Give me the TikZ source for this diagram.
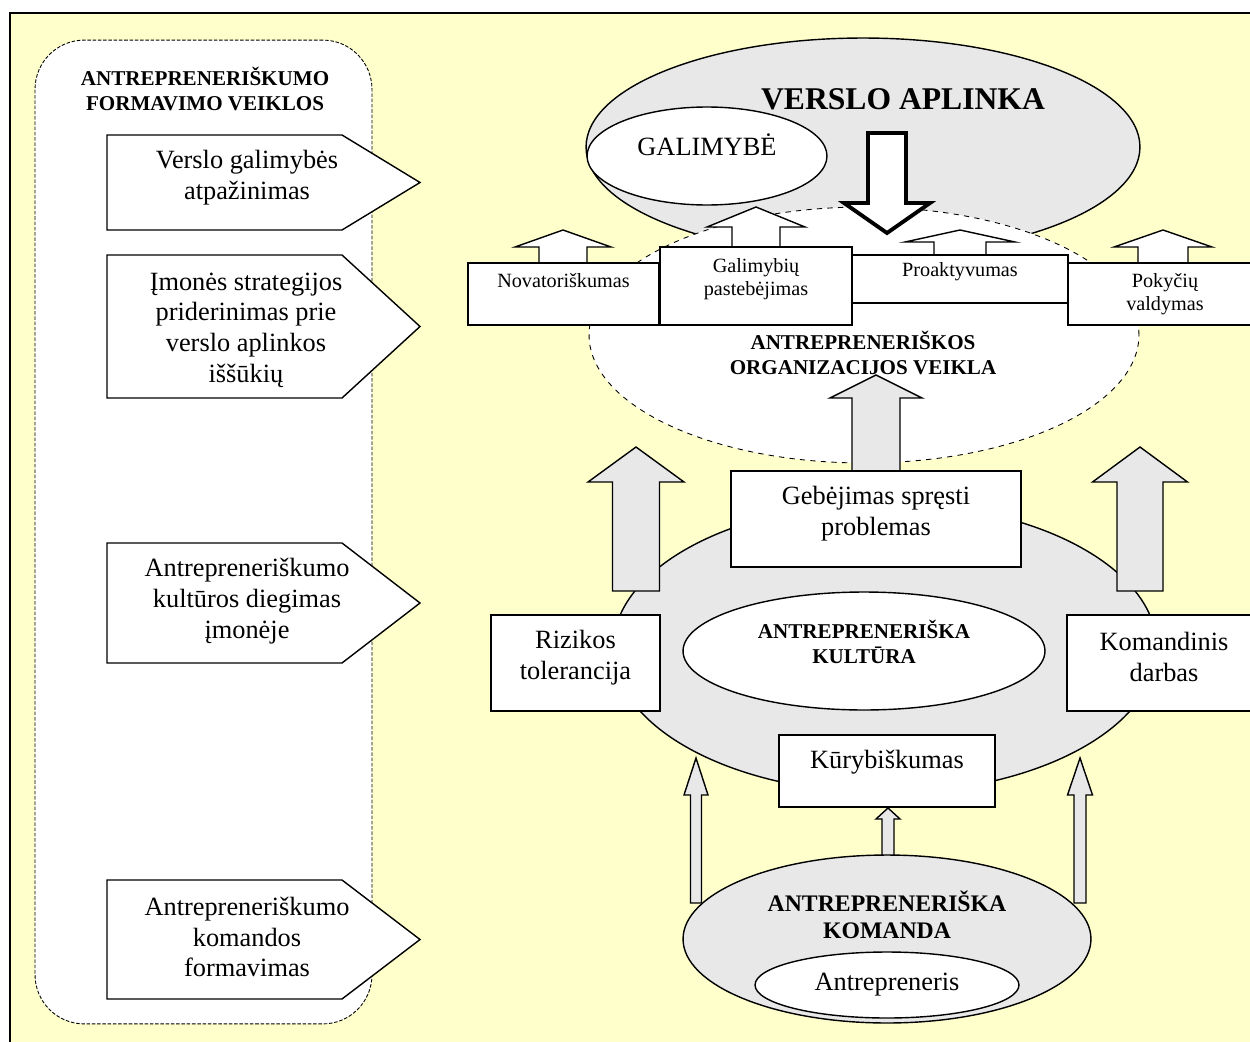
\documentclass[tikz,border=0pt]{standalone}
\usepackage{fontspec}
\setmainfont{Liberation Serif}
\usetikzlibrary{shapes.geometric}
\definecolor{bgyellow}{RGB}{255,255,204}
\definecolor{lgray}{RGB}{232,232,232}
\newcommand\blkarrow[7]{% style, cx, ybottom, ytip, yheadbase, shafthalf, headhalf
  \draw[#1] ({#2-#6},#3) -- ({#2-#6},#5) -- ({#2-#7},#5) -- (#2,#4) -- ({#2+#7},#5) -- ({#2+#6},#5) -- ({#2+#6},#3) -- cycle;}
\newcommand\pentarrow[5]{% ytop, ybottom, xleft, xbody, xtip
  \draw[warrow] (#3,#1) -- (#4,#1) -- (#5,{(#1+#2)/2}) -- (#4,#2) -- (#3,#2) -- cycle;}
\tikzset{
  box/.style={draw, line width=0.8pt, fill=white, inner sep=0pt, rectangle},
  ell/.style={draw, line width=0.8pt, ellipse, inner sep=0pt},
  txt/.style={align=center, inner sep=0pt, font=\fontsize{15}{17.5}\selectfont},
  stxt/.style={align=center, inner sep=0pt, font=\fontsize{11.5}{13}\selectfont},
  btxt/.style={align=center, inner sep=0pt, font=\bfseries\fontsize{12}{14.5}\selectfont},
  warrow/.style={draw, line width=0.8pt, fill=white, line join=miter},
  garrow/.style={draw, line width=0.8pt, fill=lgray, line join=miter},
}
\begin{document}
\begin{tikzpicture}[x=0.02cm,y=-0.02cm]
\useasboundingbox (0,0) rectangle (1250,1041);
\fill[white] (0,0) rectangle (1250,1041);
\draw[line width=1.2pt, fill=bgyellow] (10,13) rectangle (1275,1060);

% left panel
\node[draw, line width=0.5pt, dash pattern=on 2pt off 1pt, fill=white, rounded corners=28pt,
      minimum width=6.74cm, minimum height=19.68cm, inner sep=0pt] (panel) at (203.5,532) {};
\node[btxt] (title) at (205,89) {ANTREPRENERIŠKUMO\\FORMAVIMO VEIKLOS};

\pentarrow{135}{230}{107}{342}{420}
\node[txt] (p1) at (247,178) {Verslo galimybės\\atpažinimas};
\pentarrow{255}{398}{107}{342}{420}
\node[txt] (p2) at (246,330) {Įmonės strategijos\\priderinimas prie\\verslo aplinkos\\iššūkių};
\pentarrow{543}{663}{107}{342}{420}
\node[txt] (p3) at (247,601) {Antrepreneriškumo\\kultūros diegimas\\įmonėje};
\pentarrow{880}{999}{107}{342}{420}
\node[txt] (p4) at (247,937) {Antrepreneriškumo\\komandos\\formavimas};

% business environment
\node[ell, fill=lgray, minimum width=11.08cm, minimum height=4.36cm] (env) at (863,147) {};
\node[anchor=base, inner sep=0pt, font=\bfseries\fontsize{18}{21}\selectfont] (envt) at (903,109) {VERSLO APLINKA};
\node[ell, fill=white, minimum width=4.8cm, minimum height=1.96cm] (opp) at (707,156) {};
\node[anchor=base, inner sep=0pt, font=\fontsize{15}{17.5}\selectfont] (oppt) at (707,155) {GALIMYBĖ};

% organisation activity
\node[ell, dashed, line width=0.5pt, fill=white, minimum width=11cm, minimum height=5.12cm] (org) at (864,335) {};
\blkarrow{draw, line width=2.2pt, fill=white, line join=miter}{887}{133}{233}{203}{19}{43}

\blkarrow{warrow}{563}{264}{230}{247}{24}{48}
\blkarrow{warrow}{756}{248}{207}{227}{24}{49}
\blkarrow{warrow}{960}{256}{230}{242}{26}{55}
\blkarrow{warrow}{1163}{264}{230}{247}{25}{49}

\node[box, minimum width=3.82cm, minimum height=1.24cm] (nov) at (563.5,294) {};
\node[stxt] (novt) at (563.5,281) {Novatoriškumas};
\node[box, minimum width=3.84cm, minimum height=1.56cm] (gal) at (756,286) {};
\node[stxt] (galt) at (756,279) {Galimybių\\pastebėjimas};
\node[box, minimum width=4.32cm, minimum height=0.96cm] (pro) at (960,279) {};
\node[stxt] (prot) at (960,272) {Proaktyvumas};
\node[box, minimum width=4.04cm, minimum height=1.24cm] (pok) at (1169,294) {};
\node[stxt] (pokt) at (1165,294) {Pokyčių\\valdymas};

\node[btxt] (orgt) at (863,353) {ANTREPRENERIŠKOS\\ORGANIZACIJOS VEIKLA};

% culture
\node[ell, fill=lgray, minimum width=10.88cm, minimum height=5.8cm] (cult) at (885,648) {};
\blkarrow{garrow}{876}{471}{375}{398}{24}{46}
\blkarrow{garrow}{636}{591}{447}{482}{23.5}{48}
\blkarrow{garrow}{1140}{591}{447}{482}{23}{47.5}

\node[box, minimum width=5.8cm, minimum height=1.92cm] (geb) at (876,519) {};
\node[txt] (gebt) at (876,514) {Gebėjimas spręsti\\problemas};

\node[ell, fill=white, minimum width=7.24cm, minimum height=2.36cm] (cultin) at (864,651) {};
\node[btxt] (cultt) at (864,642) {ANTREPRENERIŠKA\\KULTŪRA};

\node[box, minimum width=3.38cm, minimum height=1.92cm] (riz) at (575.5,663) {};
\node[txt] (rizt) at (575.5,658) {Rizikos\\tolerancija};
\node[box, minimum width=4.16cm, minimum height=1.92cm] (kom) at (1171,663) {};
\node[txt] (komt) at (1164,657) {Komandinis\\darbas};

\node[box, minimum width=4.32cm, minimum height=1.44cm] (kur) at (887,771) {};
\node[txt] (kurt) at (887,762) {Kūrybiškumas};

% team
\blkarrow{garrow}{696}{903}{758}{795}{5.5}{12}
\blkarrow{garrow}{1080}{903}{758}{795}{6}{12.5}
\blkarrow{garrow}{888}{856}{808}{819}{6}{12}
\node[ell, fill=lgray, minimum width=8.16cm, minimum height=3.36cm] (team) at (887,939) {};
\node[align=center, inner sep=0pt, font=\bfseries\fontsize{13.5}{15.3}\selectfont] (teamt) at (887,915) {ANTREPRENERIŠKA\\KOMANDA};
\node[ell, fill=white, minimum width=5.28cm, minimum height=1.32cm] (ent) at (887,985) {};
\node[txt] (entt) at (887,985) {Antrepreneris};
\end{tikzpicture}
\end{document}
